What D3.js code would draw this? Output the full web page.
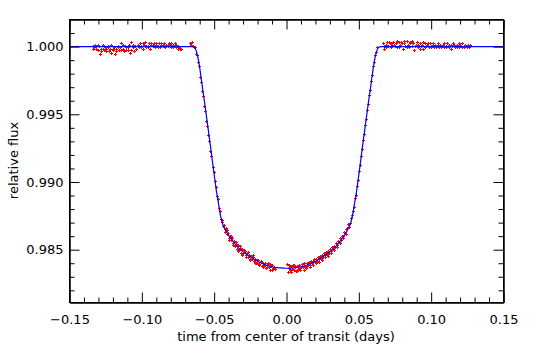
<!DOCTYPE html>
<html><head><meta charset="utf-8">
<script src="https://cdn.jsdelivr.net/npm/d3@7"></script>
<style>
html,body{margin:0;padding:0;background:#fff;}
svg{display:block;}
text{font-family:"DejaVu Sans",sans-serif;font-size:13px;fill:#000;}
</style></head><body>
<svg id="c" width="540" height="359"></svg>
<script>
// ---- data ----
const xTicks = [-0.15, -0.10, -0.05, 0.00, 0.05, 0.10, 0.15];
const xTickLabels = ["\u22120.15", "\u22120.10", "\u22120.05", "0.00", "0.05", "0.10", "0.15"];
const yTicks = [0.985, 0.990, 0.995, 1.000];
const yTickLabels = ["0.985", "0.990", "0.995", "1.000"];
const xLabel = "time from center of transit (days)";
const yLabel = "relative flux";

// model (blue line)
const modelTime = [-0.15, -0.0657, -0.0636, -0.0622, -0.0608, -0.0594, -0.0581, -0.0567, -0.0553, -0.0539, -0.0525, -0.0512, -0.0498, -0.0484, -0.0470, -0.0456, -0.0442, -0.0429, -0.0415, -0.0394, -0.0373, -0.0346, -0.0311, -0.0276, -0.0242, -0.0207, -0.0173, -0.0138, -0.0104, -0.0069, -0.0035, 0,
  0.0035, 0.0069, 0.0104, 0.0138, 0.0173, 0.0207, 0.0242, 0.0276, 0.0311, 0.0346, 0.0373, 0.0394, 0.0415, 0.0429, 0.0442, 0.0456, 0.0470, 0.0484, 0.0498, 0.0512, 0.0525, 0.0539, 0.0553, 0.0567, 0.0581, 0.0594, 0.0608, 0.0622, 0.0636, 0.0657, 0.15];
const modelFlux = [1.00000, 1.00000, 0.99993, 0.99963, 0.99897, 0.99800, 0.99697, 0.99594, 0.99483, 0.99372, 0.99261, 0.99150, 0.99039, 0.98929, 0.98840, 0.98751, 0.98692, 0.98663, 0.98633, 0.98596, 0.98566, 0.98530, 0.98493, 0.98467, 0.98441, 0.98419, 0.98400, 0.98385, 0.98374, 0.98367, 0.98365, 0.98363,
  0.98365, 0.98367, 0.98374, 0.98385, 0.98400, 0.98419, 0.98441, 0.98467, 0.98493, 0.98530, 0.98566, 0.98596, 0.98633, 0.98663, 0.98692, 0.98751, 0.98840, 0.98929, 0.99039, 0.99150, 0.99261, 0.99372, 0.99483, 0.99594, 0.99697, 0.99800, 0.99897, 0.99963, 0.99993, 1.00000, 1.00000];

// observations (red points)
const obsTime = [
 -0.1336,-0.1328,-0.1320,-0.1311,-0.1302,-0.1294,-0.1285,-0.1276,-0.1268,-0.1259,-0.1251,-0.1242,-0.1233,-0.1225,-0.1216,-0.1207,-0.1199,-0.1190,-0.1182,-0.1173,-0.1164,-0.1156,-0.1147,-0.1138,-0.1130,-0.1121,-0.1113,-0.1104,-0.1095,-0.1087,-0.1078,-0.1069,-0.1061,-0.1052,-0.1043,-0.1035,
 -0.1026,-0.1017,-0.1009,-0.1000,-0.0991,-0.0983,-0.0974,-0.0966,-0.0957,-0.0948,-0.0940,-0.0931,-0.0922,-0.0914,-0.0905,-0.0896,-0.0888,-0.0879,-0.0871,-0.0862,-0.0853,-0.0845,-0.0836,-0.0827,-0.0819,-0.0810,-0.0801,-0.0793,-0.0784,-0.0776,-0.0767,-0.0758,-0.0750,-0.0741,-0.0732,-0.0725,
 -0.0662,-0.0655,-0.0648,-0.0641,-0.0634,
 -0.0627,-0.0620,-0.0613,-0.0606,-0.0599,-0.0592,-0.0585,-0.0578,-0.0571,-0.0564,-0.0557,-0.0550,-0.0543,-0.0536,-0.0529,-0.0522,-0.0515,-0.0508,-0.0501,-0.0494,-0.0487,-0.0480,-0.0473,-0.0466,-0.0459,-0.0452,-0.0445,
 -0.0440,-0.0432,-0.0425,-0.0418,-0.0410,-0.0403,-0.0396,-0.0389,-0.0381,-0.0374,-0.0367,-0.0360,-0.0352,-0.0345,-0.0338,-0.0330,-0.0323,-0.0316,-0.0308,-0.0301,-0.0294,-0.0286,-0.0279,-0.0272,-0.0264,-0.0257,-0.0250,-0.0242,-0.0235,-0.0228,-0.0220,-0.0213,-0.0206,-0.0198,-0.0191,-0.0184,-0.0176,-0.0169,-0.0162,-0.0154,-0.0147,-0.0140,-0.0132,-0.0125,-0.0118,-0.0110,-0.0103,-0.0096,-0.0088,-0.0081,-0.0074,
 0.0005,0.0012,0.0018,0.0025,0.0032,0.0040,0.0047,0.0054,0.0061,0.0068,0.0075,0.0082,0.0089,0.0096,0.0103,0.0110,0.0117,0.0124,0.0131,0.0138,0.0145,0.0152,0.0159,0.0166,0.0173,0.0180,0.0187,0.0194,0.0201,0.0208,0.0215,0.0222,0.0229,0.0236,0.0243,0.0250,0.0257,0.0264,0.0271,0.0278,0.0285,0.0292,0.0299,0.0306,0.0313,0.0320,0.0327,0.0334,0.0341,0.0348,0.0355,0.0362,0.0369,0.0376,0.0383,0.0390,0.0397,0.0404,0.0411,0.0418,0.0425,0.0432,0.0439,
 0.0446,0.0453,0.0460,0.0467,0.0474,0.0481,0.0488,0.0495,0.0502,0.0509,0.0516,0.0523,0.0530,0.0537,0.0544,0.0551,0.0558,0.0565,0.0572,0.0579,0.0586,0.0593,0.0600,0.0607,0.0614,0.0621,0.0628,
 0.0672,0.0680,0.0689,0.0698,0.0707,0.0716,0.0725,0.0734,0.0743,0.0752,0.0761,0.0770,0.0779,0.0788,0.0797,0.0806,0.0815,0.0824,0.0833,0.0842,0.0851,0.0860,0.0869,0.0878,0.0887,0.0896,0.0905,0.0914,0.0923,0.0932,0.0941,0.0950,0.0959,0.0968,0.0977,0.0986,0.0995,0.1004,0.1013,0.1022,0.1031,0.1040,0.1049,0.1058,0.1067,0.1076,0.1085,0.1094,0.1103,0.1112,0.1121,0.1130,0.1139,0.1148,0.1157,0.1166,0.1175,0.1184,0.1193,0.1202,0.1211,0.1220,0.1229,0.1238,0.1247,0.1256,0.1265,0.1274,
 -0.1332,-0.1316,-0.1298,-0.1280,-0.1264,-0.1246,-0.1229,-0.1212,-0.1195,-0.1177,-0.1160,-0.1143,-0.1126,-0.1108,-0.1091,-0.1074,-0.1057,-0.1039,-0.1022,-0.1004,-0.0987,-0.0970,-0.0952,-0.0935,-0.0918,-0.0900,-0.0883,-0.0866,-0.0849,-0.0831,-0.0814,-0.0797,-0.0780,-0.0762,-0.0745,
 0.0676,0.0694,0.0711,0.0729,0.0747,0.0765,0.0783,0.0801,0.0819,0.0837,0.0855,0.0873,0.0891,0.0909,0.0927,0.0945,0.0963,0.0981,0.0999,0.1017,0.1035,0.1053,0.1071,0.1089,0.1107,0.1125,0.1143,0.1161,0.1179,0.1197,0.1215,0.1233,0.1251,0.1269,
 -0.0436,-0.0421,-0.0407,-0.0392,-0.0378,-0.0363,-0.0349,-0.0334,-0.0319,-0.0305,-0.0290,-0.0275,-0.0261,-0.0246,-0.0231,-0.0217,-0.0202,-0.0187,-0.0172,-0.0158,-0.0143,-0.0128,-0.0114,-0.0099,
 0.0021,0.0036,0.0058,0.0079,0.0100,0.0121,0.0142,0.0163,0.0184,0.0205,0.0226,0.0247,0.0268,0.0289,0.0310,0.0331,0.0352,0.0373,0.0394,0.0415,0.0436
];
const obsFlux = [
 1.0000,0.9999,1.0001,0.9998,0.9997,1.0000,0.9994,0.9998,1.0001,0.9997,0.9999,0.9998,1.0000,0.9996,0.9998,1.0001,0.9997,0.9999,0.9994,0.9998,1.0000,0.9997,0.9999,1.0002,0.9998,0.9996,1.0000,0.9999,0.9997,1.0001,0.9995,1.0003,0.9999,0.9996,1.0000,0.9998,
 1.0001,0.9999,1.0002,1.0000,0.9998,1.0001,1.0003,0.9999,1.0000,1.0002,0.9998,1.0001,1.0000,1.0002,0.9999,1.0001,1.0000,1.0002,0.9999,1.0001,1.0000,1.0002,0.9999,1.0001,1.0000,1.0002,1.0001,0.9999,1.0001,1.0000,1.0002,0.9999,0.9998,0.9999,0.9998,0.9998,
 1.0002,1.0001,1.0003,1.0000,0.9999,
 0.99990,0.99945,0.99935,0.99880,0.99855,0.99775,0.99735,0.99670,0.99630,0.99560,0.99520,0.99450,0.99410,0.99340,0.99300,0.99225,0.99185,0.99110,0.99070,0.99000,0.98960,0.98895,0.98870,0.98805,0.98780,0.98720,0.98715,
 0.98700,0.98680,0.98650,0.98660,0.98615,0.98620,0.98585,0.98600,0.98570,0.98580,0.98545,0.98560,0.98525,0.98540,0.98505,0.98530,0.98495,0.98510,0.98475,0.98500,0.98470,0.98485,0.98455,0.98470,0.98445,0.98455,0.98430,0.98450,0.98425,0.98440,0.98410,0.98425,0.98400,0.98395,0.98420,0.98390,0.98405,0.98375,0.98395,0.98385,0.98400,0.98360,0.98380,0.98395,0.98365,0.98345,0.98375,0.98385,0.98360,0.98370,0.98355,
 0.98390,0.98330,0.98360,0.98345,0.98375,0.98355,0.98380,0.98350,0.98365,0.98340,0.98375,0.98355,0.98385,0.98350,0.98370,0.98390,0.98365,0.98395,0.98375,0.98360,0.98395,0.98380,0.98405,0.98385,0.98415,0.98395,0.98410,0.98425,0.98405,0.98430,0.98415,0.98440,0.98425,0.98450,0.98435,0.98460,0.98445,0.98470,0.98455,0.98480,0.98465,0.98490,0.98475,0.98500,0.98485,0.98515,0.98500,0.98525,0.98515,0.98545,0.98530,0.98560,0.98550,0.98580,0.98570,0.98600,0.98595,0.98625,0.98620,0.98650,0.98655,0.98685,0.98690,
 0.98730,0.98755,0.98785,0.98815,0.98875,0.98900,0.98965,0.99010,0.99080,0.99120,0.99190,0.99240,0.99305,0.99350,0.99420,0.99460,0.99530,0.99570,0.99640,0.99675,0.99745,0.99785,0.99850,0.99885,0.99935,0.99955,0.99990,
 1.0002,0.9998,1.0001,1.0003,1.0000,1.0002,0.9999,1.0001,1.0003,1.0000,1.0002,1.0004,0.9999,1.0001,1.0003,0.9998,1.0002,1.0000,1.0004,1.0001,0.9999,1.0003,1.0000,1.0002,0.9997,1.0001,1.0003,0.9999,1.0002,1.0000,1.0001,0.9998,1.0002,1.0000,1.0001,0.9999,1.0002,1.0000,1.0001,0.9999,1.0001,1.0000,1.0002,0.9999,1.0001,1.0000,1.0001,0.9999,1.0000,1.0002,1.0000,0.9999,1.0001,1.0000,1.0002,0.9999,1.0000,1.0001,0.9999,1.0001,1.0000,1.0002,0.9999,1.0001,1.0000,1.0001,0.9999,1.0000,
 0.9998,1.0000,1.0001,0.9996,0.9998,0.9996,0.9999,0.9995,0.9998,0.9996,0.9999,0.9997,1.0001,0.9997,0.9999,0.9997,1.0001,0.9998,1.0000,0.9999,1.0002,1.0000,0.9999,1.0002,1.0001,1.0002,0.9999,1.0002,1.0001,1.0000,1.0001,1.0002,0.9999,1.0001,1.0000,
 1.0000,0.9999,1.0003,1.0002,1.0001,0.9999,1.0003,1.0002,1.0004,0.9999,1.0002,1.0004,1.0000,1.0001,0.9998,1.0003,0.9999,1.0002,0.9999,1.0002,0.9999,1.0001,0.9999,1.0002,0.9999,1.0001,0.9998,1.0001,0.9999,1.0002,0.9999,1.0000,0.9999,1.0001,
 0.98670,0.98630,0.98640,0.98570,0.98595,0.98530,0.98555,0.98490,0.98520,0.98460,0.98495,0.98445,0.98480,0.98420,0.98455,0.98400,0.98420,0.98380,0.98410,0.98365,0.98385,0.98370,0.98390,0.98350,
 0.98380,0.98335,0.98385,0.98340,0.98360,0.98350,0.98375,0.98370,0.98380,0.98395,0.98405,0.98420,0.98440,0.98450,0.98470,0.98495,0.98515,0.98545,0.98580,0.98610,0.98665
];

// ---- chart ----
const W = 540, H = 359;
const m = {l: 69, r: 37, t: 19, b: 57};
const svg = d3.select("#c");
const x = d3.scaleLinear().domain([-0.15, 0.15]).range([m.l, W - m.r]);
const y = d3.scaleLinear().domain([0.9811, 1.0020]).range([H - m.b, m.t]);

const xMinor = d3.range(-14, 15).filter(i => i % 5 !== 0).map(i => i / 100);
const yMinor = d3.range(982, 1002).filter(i => i % 5 !== 0).map(i => i / 1000);

const g = svg.append("g").attr("transform", "translate(0.5,0.5)");

// data points
const obs = obsTime.map((t, i) => [t, obsFlux[i]]);
g.append("g").selectAll("path").data(obs).join("path")
  .attr("d", d => `M${Math.round(x(d[0])) - 1.5},${Math.round(y(d[1]))}h3M${Math.round(x(d[0]))},${Math.round(y(d[1])) - 1.5}v3`)
  .attr("stroke", "#ff0000").attr("stroke-width", 1).attr("fill", "none");

// model line
const model = modelTime.map((t, i) => [t, modelFlux[i]]);
g.append("path").datum(model)
  .attr("d", d3.line().x(d => x(d[0])).y(d => y(d[1])).curve(d3.curveMonotoneX))
  .attr("fill", "none").attr("stroke", "#0000ff").attr("stroke-width", 1.2);

function styleAxis(sel) {
  sel.selectAll("path.domain").attr("stroke", "#000");
  sel.selectAll(".tick line").attr("stroke", "#000");
  sel.attr("font-family", null).attr("font-size", null);
}
const bottomY = H - m.b, topY = m.t, leftX = m.l, rightX = W - m.r;

// bottom
g.append("g").attr("transform", `translate(0,${bottomY})`)
  .call(d3.axisBottom(x).tickValues(xTicks).tickFormat((d, i) => xTickLabels[i]).tickSize(-10).tickSizeOuter(0).tickPadding(12)).call(styleAxis);
g.append("g").attr("transform", `translate(0,${bottomY})`)
  .call(d3.axisBottom(x).tickValues(xMinor).tickFormat("").tickSize(-5).tickSizeOuter(0)).call(styleAxis);
// top
g.append("g").attr("transform", `translate(0,${topY})`)
  .call(d3.axisTop(x).tickValues(xTicks).tickFormat("").tickSize(-10).tickSizeOuter(0)).call(styleAxis);
g.append("g").attr("transform", `translate(0,${topY})`)
  .call(d3.axisTop(x).tickValues(xMinor).tickFormat("").tickSize(-5).tickSizeOuter(0)).call(styleAxis);
// left
g.append("g").attr("transform", `translate(${leftX},0)`)
  .call(d3.axisLeft(y).tickValues(yTicks).tickFormat((d, i) => yTickLabels[i]).tickSize(-10).tickSizeOuter(0).tickPadding(6)).call(styleAxis);
g.append("g").attr("transform", `translate(${leftX},0)`)
  .call(d3.axisLeft(y).tickValues(yMinor).tickFormat("").tickSize(-5).tickSizeOuter(0)).call(styleAxis);
// right
g.append("g").attr("transform", `translate(${rightX},0)`)
  .call(d3.axisRight(y).tickValues(yTicks).tickFormat("").tickSize(-10).tickSizeOuter(0)).call(styleAxis);
g.append("g").attr("transform", `translate(${rightX},0)`)
  .call(d3.axisRight(y).tickValues(yMinor).tickFormat("").tickSize(-5).tickSizeOuter(0)).call(styleAxis);

// frame lines
g.append("rect").attr("x", leftX).attr("y", topY).attr("width", rightX - leftX).attr("height", bottomY - topY)
  .attr("fill", "none").attr("stroke", "#000");

// titles
svg.append("text").attr("x", (leftX + rightX) / 2).attr("y", 341).attr("text-anchor", "middle").text(xLabel);
svg.append("text").attr("transform", `translate(18,${(topY + bottomY) / 2}) rotate(-90)`).attr("text-anchor", "middle").text(yLabel);
</script>
</body></html>
